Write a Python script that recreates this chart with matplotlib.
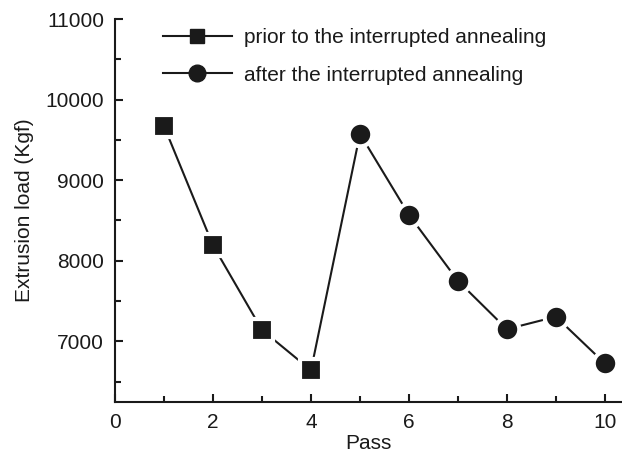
import matplotlib
matplotlib.use('Agg')
import matplotlib.pyplot as plt
from matplotlib.lines import Line2D
from matplotlib.ticker import MultipleLocator

plt.rcParams['font.family'] = ['Liberation Sans', 'DejaVu Sans']

# data
pass_before = [1, 2, 3, 4]
load_before = [9670, 8190, 7140, 6640]
pass_after = [5, 6, 7, 8, 9, 10]
load_after = [9575, 8570, 7750, 7150, 7305, 6725]

label_before = 'prior to the interrupted annealing'
label_after = 'after the interrupted annealing'

ink = '#1a1a1a'
fs = 15

fig = plt.figure(figsize=(6.22, 4.55), dpi=100)
ax = fig.add_axes([0.185, 0.116, 0.815, 0.842])

# connecting line through all passes
ax.plot(pass_before + pass_after, load_before + load_after, color=ink, lw=1.5, zorder=2)
ax.plot(pass_before, load_before, ls='none', marker='s', ms=15.5, mfc=ink,
        mec='white', mew=3, zorder=3)
ax.plot(pass_after, load_after, ls='none', marker='o', ms=17, mfc=ink,
        mec='white', mew=3, zorder=3)

ax.set_xlim(0, 10.35)
ax.set_ylim(6243, 11000)
ax.xaxis.set_major_locator(MultipleLocator(2))
ax.xaxis.set_minor_locator(MultipleLocator(1))
ax.yaxis.set_major_locator(MultipleLocator(1000))
ax.yaxis.set_minor_locator(MultipleLocator(500))

for s in ['top', 'right']:
    ax.spines[s].set_visible(False)
for s in ['left', 'bottom']:
    ax.spines[s].set_linewidth(1.5)
    ax.spines[s].set_color(ink)

ax.tick_params(which='major', direction='in', length=6, width=1.5, color=ink,
               labelsize=fs, labelcolor=ink, pad=8)
ax.tick_params(which='minor', direction='in', length=4, width=1.5, color=ink)

ax.set_xlabel('Pass', fontsize=fs, color=ink, labelpad=1)
ax.set_ylabel('Extrusion load (Kgf)', fontsize=fs, color=ink, labelpad=8)

handles = [
    Line2D([], [], color=ink, lw=1.5, marker='s', ms=10, mfc=ink, mec=ink),
    Line2D([], [], color=ink, lw=1.5, marker='o', ms=12, mfc=ink, mec=ink),
]
fig.legend(handles, [label_before, label_after], loc='upper left',
           bbox_to_anchor=(0.262, 0.938), frameon=False, fontsize=fs,
           handlelength=3.3, handletextpad=0.58, labelspacing=0.88,
           borderpad=0, borderaxespad=0, labelcolor=ink)

fig.savefig('out.png', dpi=100)
